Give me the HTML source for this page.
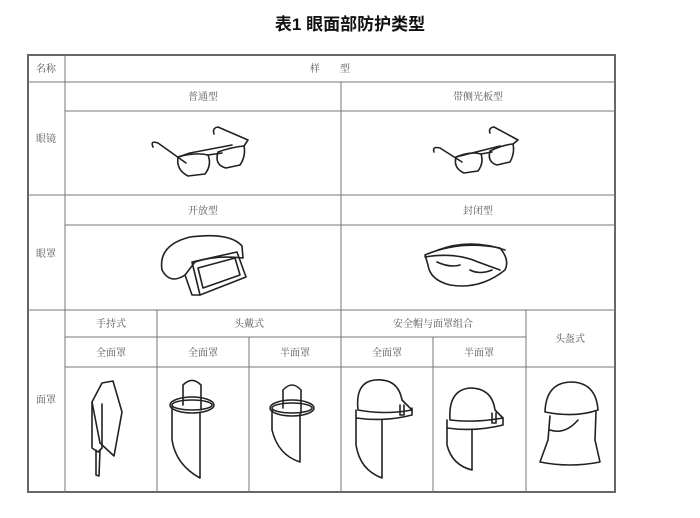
<!DOCTYPE html>
<html><head><meta charset="utf-8"><style>
html,body{margin:0;padding:0;background:#fff;width:700px;height:518px;overflow:hidden}
svg{display:block}
text{font-family:"Liberation Serif","Noto Serif CJK SC",serif;font-size:10px;fill:#555}
.t{font-family:"Liberation Sans","Noto Sans CJK SC",sans-serif;font-size:17px;font-weight:bold;fill:#111}
.g{stroke:#777;stroke-width:1;fill:none}
.b{stroke:#666;stroke-width:2;fill:none}
.d{stroke:#222;stroke-width:1.6;fill:none;stroke-linejoin:round;stroke-linecap:round}
</style></head><body>
<svg width="700" height="518" viewBox="0 0 700 518">
<text class="t" x="350" y="30" text-anchor="middle">表1 眼面部防护类型</text>
<rect class="b" x="28" y="55" width="587" height="437"/>
<g class="g">
<line x1="65" y1="55" x2="65" y2="492"/>
<line x1="28" y1="82" x2="615" y2="82"/>
<line x1="341" y1="82" x2="341" y2="310"/>
<line x1="65" y1="111" x2="615" y2="111"/>
<line x1="28" y1="195" x2="615" y2="195"/>
<line x1="65" y1="225" x2="615" y2="225"/>
<line x1="28" y1="310" x2="615" y2="310"/>
<line x1="65" y1="337" x2="526" y2="337"/>
<line x1="65" y1="367" x2="615" y2="367"/>
<line x1="157" y1="310" x2="157" y2="492"/>
<line x1="249" y1="337" x2="249" y2="492"/>
<line x1="341" y1="310" x2="341" y2="492"/>
<line x1="433" y1="337" x2="433" y2="492"/>
<line x1="526" y1="310" x2="526" y2="492"/>
</g>
<text x="46" y="72" text-anchor="middle">名称</text>
<text x="330" y="72" text-anchor="middle">样&#160;&#160;&#160;&#160;&#160;&#160;&#160;&#160;型</text>
<text x="46" y="142" text-anchor="middle">眼镜</text>
<text x="46" y="257" text-anchor="middle">眼罩</text>
<text x="46" y="403" text-anchor="middle">面罩</text>
<text x="203" y="100" text-anchor="middle">普通型</text>
<text x="478" y="100" text-anchor="middle">带侧光板型</text>
<text x="203" y="214" text-anchor="middle">开放型</text>
<text x="478" y="214" text-anchor="middle">封闭型</text>
<text x="111" y="327" text-anchor="middle">手持式</text>
<text x="249" y="327" text-anchor="middle">头戴式</text>
<text x="433" y="327" text-anchor="middle">安全帽与面罩组合</text>
<text x="570" y="342" text-anchor="middle">头盔式</text>
<text x="111" y="356" text-anchor="middle">全面罩</text>
<text x="203" y="356" text-anchor="middle">全面罩</text>
<text x="295" y="356" text-anchor="middle">半面罩</text>
<text x="387" y="356" text-anchor="middle">全面罩</text>
<text x="479" y="356" text-anchor="middle">半面罩</text>
<!-- glasses 1 -->
<g class="d" stroke-width="2.2">
<path d="M153 147 Q150 140 158 143 L186 163"/>
<path d="M178 157 Q176 170 188 176 L205 174 Q212 165 208 155 Q195 152 178 157 Z"/>
<path d="M208 155 L222 153"/>
<path d="M218 152 Q214 165 226 168 L240 165 Q246 156 244 146 Q232 147 218 152 Z"/>
<path d="M244 146 L248 140 L218 127 Q212 128 214 134"/>
<path d="M178 157 L190 153 L232 145"/>
</g>
<!-- glasses 2 -->
<g class="d" stroke-width="2.2">
<path d="M434 152 Q432 146 440 148 L462 162"/>
<path d="M456 157 Q453 168 464 173 L478 171 Q484 163 481 154 Q470 151 456 157 Z"/>
<path d="M481 154 L492 152"/>
<path d="M490 151 Q487 162 497 165 L510 162 Q515 153 513 144 Q502 145 490 151 Z"/>
<path d="M513 144 L518 140 L494 127 Q488 128 490 133"/>
<path d="M456 157 L500 146"/>
</g>
<!-- goggles open -->
<g class="d">
<path d="M162 270 Q158 245 190 237 Q230 232 242 246 L243 258 Q215 255 195 262 L185 275 Q170 285 162 270 Z"/>
<path d="M192 262 L237 252 L246 277 L200 295 Z"/><path d="M198 268 L235 258 L240 275 L203 288 Z"/>
<path d="M185 275 L192 295 L200 295"/>
</g>
<!-- goggles closed -->
<g class="d">
<path d="M425 255 Q460 240 500 248 Q510 260 505 270 Q480 290 450 285 Q430 280 428 265 Z"/>
<path d="M425 257 Q455 252 478 262 L500 270"/><path d="M438 250 Q470 238 505 250"/>
<path d="M437 262 Q450 268 460 265 M470 270 Q480 275 492 270"/>
</g>
<!-- hand held -->
<g class="d">
<path d="M92 402 L102 383 L113 381 L122 412 L114 456 L100 443 Z"/>
<path d="M92 402 L92 448 L98 452 L102 448 L102 404"/>
<path d="M96 450 L96 475 L99 476 L100 450"/>
</g>
<!-- head-mounted full -->
<g class="d">
<ellipse cx="192" cy="405" rx="22" ry="8"/><ellipse cx="192" cy="405" rx="20" ry="5"/>
<path d="M183 405 L183 385 Q192 376 201 385 L201 410"/>
<path d="M172 407 L172 440 Q176 465 200 478 L200 412"/>
</g>
<!-- head-mounted half -->
<g class="d">
<ellipse cx="292" cy="408" rx="22" ry="8"/><ellipse cx="292" cy="408" rx="20" ry="5"/>
<path d="M283 408 L283 390 Q292 380 301 390 L301 413"/>
<path d="M272 410 L272 430 Q278 455 300 462 L300 414"/>
</g>
<!-- helmet full -->
<g class="d">
<path d="M358 410 Q355 382 375 380 Q398 378 402 400 L412 410 Q385 415 358 410"/>
<path d="M356 410 L356 418 Q385 422 412 415 L412 408"/>
<path d="M356 418 L356 445 Q360 470 382 478 L382 420"/>
<path d="M400 405 L400 415 L404 415 L404 405"/>
</g>
<!-- helmet half -->
<g class="d">
<path d="M450 420 Q448 390 470 388 Q492 388 495 410 L503 418 Q475 423 450 420"/>
<path d="M447 420 L447 428 Q475 432 503 425 L503 418"/>
<path d="M447 428 L447 445 Q452 465 472 470 L472 430"/>
<path d="M492 413 L492 423 L496 423 L496 413"/>
</g>
<!-- helmet hood -->
<g class="d">
<path d="M545 412 Q546 382 572 382 Q596 383 598 410 Q575 418 545 412 Z"/>
<path d="M550 416 L548 440 L540 462 Q570 468 600 462 L595 440 L596 412"/>
<path d="M550 430 Q565 435 578 420"/>
</g>
</svg>
</body></html>
